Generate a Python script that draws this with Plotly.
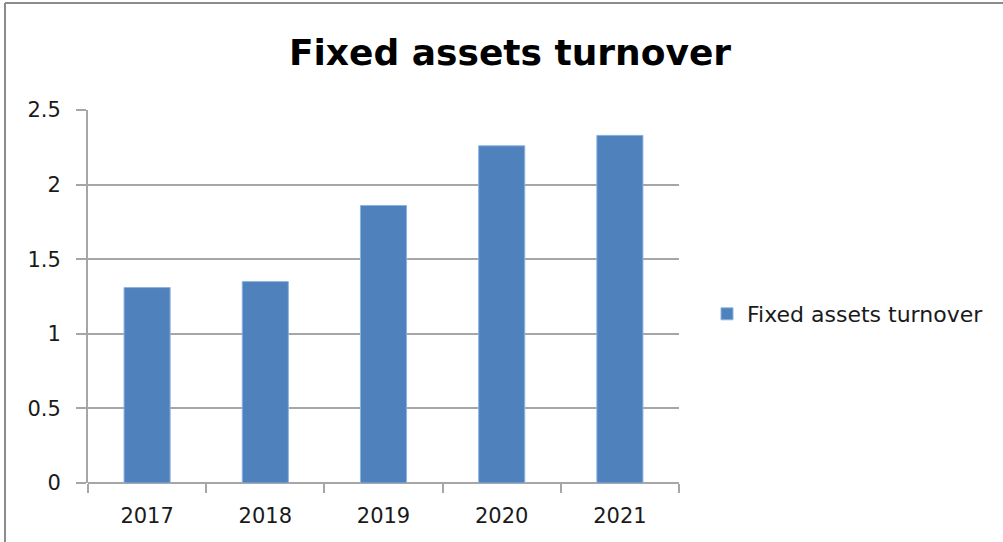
import plotly.graph_objects as go

years = ["2017", "2018", "2019", "2020", "2021"]
turnover = [1.31, 1.35, 1.86, 2.26, 2.33]
series_name = "Fixed assets turnover"
y_ticks = [0, 0.5, 1, 1.5, 2, 2.5]
y_tick_labels = ["0", "0.5", "1", "1.5", "2", "2.5"]

W, H = 1003, 542
L, R, T, B = 88, 679, 110, 483  # plot area in pixels

def px(x):
    return (x - L) / (R - L)

def py(y):
    return (B - y) / (B - T)

FONT = "'DejaVu Sans', sans-serif"
GRID = "#a6a6a6"
TEXT = "#1a1a1a"

fig = go.Figure(
    go.Bar(
        x=years,
        y=turnover,
        name=series_name,
        marker=dict(color="#4f81bd", line=dict(color="#8db3e2", width=1)),
        showlegend=True,
    )
)

fig.update_layout(
    width=W,
    height=H,
    margin=dict(l=L, r=W - R, t=T, b=H - B, pad=0),
    paper_bgcolor="white",
    plot_bgcolor="white",
    bargap=0.61,
    font=dict(family=FONT, size=21, color=TEXT),
    title=dict(
        text="<b>Fixed assets turnover</b>",
        font=dict(family=FONT, size=36, color="black"),
        x=px(510), xref="paper", xanchor="center",
        y=1 - 52 / H, yref="container", yanchor="middle",
    ),
    legend=dict(
        x=px(707), xanchor="left",
        y=py(314), yanchor="middle",
        font=dict(family=FONT, size=22, color=TEXT),
        bgcolor="rgba(0,0,0,0)",
    ),
    xaxis=dict(
        type="category",
        showline=False,
        showgrid=False,
        ticks="outside",
        tickson="boundaries",
        ticklen=9,
        tickcolor=GRID,
        tickwidth=1.5,
        ticklabelstandoff=18,
        tickfont=dict(family=FONT, size=21, color=TEXT),
        range=[-0.5, 4.5],
    ),
    yaxis=dict(
        range=[0, 2.5],
        tickvals=y_ticks,
        ticktext=y_tick_labels,
        showline=True,
        linecolor=GRID,
        linewidth=2,
        showgrid=True,
        gridcolor=GRID,
        gridwidth=1.5,
        zeroline=True,
        zerolinecolor=GRID,
        zerolinewidth=1.5,
        ticks="outside",
        ticklen=10,
        tickcolor=GRID,
        tickwidth=1.5,
        ticklabelstandoff=11,
        tickfont=dict(family=FONT, size=21, color=TEXT),
    ),
    shapes=[
        # outer frame (left and top edges)
        dict(type="line", xref="paper", yref="paper",
             x0=px(5), x1=px(5), y0=py(3), y1=py(H + 5),
             line=dict(color="#8c8c8c", width=2)),
        dict(type="line", xref="paper", yref="paper",
             x0=px(5), x1=px(W + 5), y0=py(3), y1=py(3),
             line=dict(color="#8c8c8c", width=2)),
    ],
)

fig.write_html("out.html")
